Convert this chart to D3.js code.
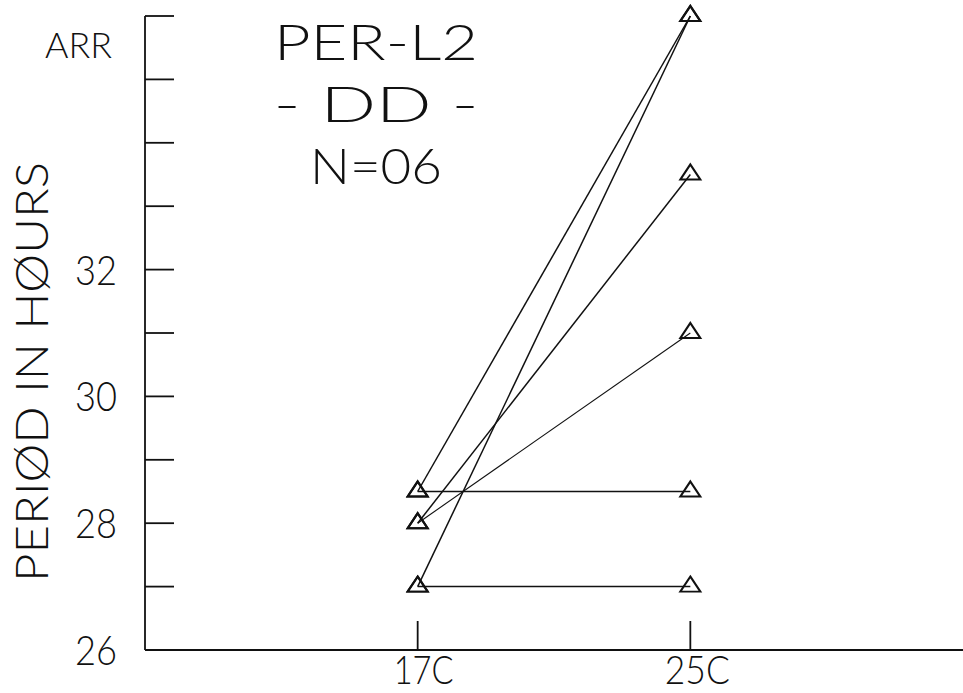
<!DOCTYPE html>
<html>
<head>
<meta charset="utf-8">
<script src="https://cdnjs.cloudflare.com/ajax/libs/d3/7.8.5/d3.min.js"></script>
<style>
  html, body { margin: 0; padding: 0; background: #fff; }
  text { font-family: Lato, "DejaVu Sans", sans-serif; font-weight: 300; fill: #111; }
</style>
</head>
<body>
<div id="chart"></div>
<script>
// temperatures on the x axis
var temps = ["17C", "25C"];
// one pair of periods per fly, 36 = arrhythmic (ARR)
var at17 = [28.5, 27, 28, 28, 28.5, 27];
var at25 = [36, 36, 33.5, 31, 28.5, 27];
var yTicks = [26, 27, 28, 29, 30, 31, 32, 33, 34, 35, 36];
var yLabels = {26: "26", 28: "28", 30: "30", 32: "32", 36: "ARR"};
var titleLines = ["PER-L2", "- DD -", "N=06"];

var W = 963, H = 693;
var svg = d3.select("#chart").append("svg")
  .attr("width", W).attr("height", H);
svg.append("rect").attr("width", W).attr("height", H).attr("fill", "#fff");

var x = d3.scalePoint().domain(temps).range([145, 963]).padding(1);
var y = d3.scaleLinear().domain([26, 36]).range([650, 16]);

// y axis line + inward ticks
svg.append("line")
  .attr("x1", 145).attr("x2", 145)
  .attr("y1", y(36)).attr("y2", y(26))
  .attr("stroke", "#111").attr("stroke-width", 1.8);
svg.selectAll(".ytick").data(yTicks.filter(function(d){ return d > 26; }))
  .enter().append("line")
  .attr("x1", 145).attr("x2", 174)
  .attr("y1", function(d){ return y(d); })
  .attr("y2", function(d){ return y(d); })
  .attr("stroke", "#111").attr("stroke-width", 1.8);

svg.selectAll(".ylab").data(yTicks.filter(function(d){ return yLabels[d]; }))
  .enter().append("text")
  .attr("x", function(d){ return d == 36 ? 45 : 75; })
  .attr("y", function(d){ return y(d) + (d == 36 ? 42 : 15); })
  .attr("font-size", function(d){ return d == 36 ? 36 : 41; })
  .attr("textLength", function(d){ return d == 36 ? 67 : 42; })
  .attr("lengthAdjust", "spacingAndGlyphs")
  .text(function(d){ return yLabels[d]; });

// x axis line + ticks
svg.append("line")
  .attr("x1", 145).attr("x2", 963)
  .attr("y1", y(26)).attr("y2", y(26))
  .attr("stroke", "#111").attr("stroke-width", 1.8);
svg.selectAll(".xtick").data(temps).enter().append("line")
  .attr("x1", function(d){ return x(d); })
  .attr("x2", function(d){ return x(d); })
  .attr("y1", y(26)).attr("y2", y(26) - 29)
  .attr("stroke", "#111").attr("stroke-width", 1.8);
svg.selectAll(".xlab").data(temps).enter().append("text")
  .attr("x", function(d){ return x(d) + (d == "25C" ? 7 : 6); })
  .attr("y", 684)
  .attr("text-anchor", "middle")
  .attr("font-size", 40)
  .attr("textLength", function(d){ return d == "25C" ? 65 : 60; })
  .attr("lengthAdjust", "spacingAndGlyphs")
  .text(function(d){ return d; });

// axis title
svg.append("text")
  .attr("transform", "translate(48,372) rotate(-90)")
  .attr("text-anchor", "middle")
  .attr("font-size", 46)
  .attr("textLength", 420)
  .attr("lengthAdjust", "spacingAndGlyphs")
  .text("PERIØD IN HØURS");

// title block
var tW = [204, 205, 132];
svg.selectAll(".title").data(titleLines).enter().append("text")
  .attr("x", 376)
  .attr("y", function(d, i){ return 60 + i * 62; })
  .attr("text-anchor", "middle")
  .attr("font-size", 50)
  .attr("textLength", function(d, i){ return tW[i]; })
  .attr("lengthAdjust", "spacingAndGlyphs")
  .text(function(d){ return d; });

// lines per fly
var pairs = at17.map(function(v, i){ return [v, at25[i]]; });
svg.selectAll(".fly").data(pairs).enter().append("line")
  .attr("x1", x(temps[0])).attr("x2", x(temps[1]))
  .attr("y1", function(d){ return y(d[0]); })
  .attr("y2", function(d){ return y(d[1]); })
  .attr("stroke", "#111")
  .attr("stroke-width", function(d){ return d[1] == 31 ? 1.1 : 1.5; });

// triangles
var tri = d3.symbol().type(d3.symbolTriangle).size(173);
var pts = [];
pairs.forEach(function(d){
  pts.push([temps[0], d[0]]);
  pts.push([temps[1], d[1]]);
});
svg.selectAll(".pt").data(pts).enter().append("path")
  .attr("d", tri)
  .attr("transform", function(d){
    return "translate(" + x(d[0]) + "," + y(d[1]) + ") scale(1,0.87)";
  })
  .attr("fill", "none")
  .attr("stroke", "#111")
  .attr("stroke-width", 2.2);
</script>
</body>
</html>
